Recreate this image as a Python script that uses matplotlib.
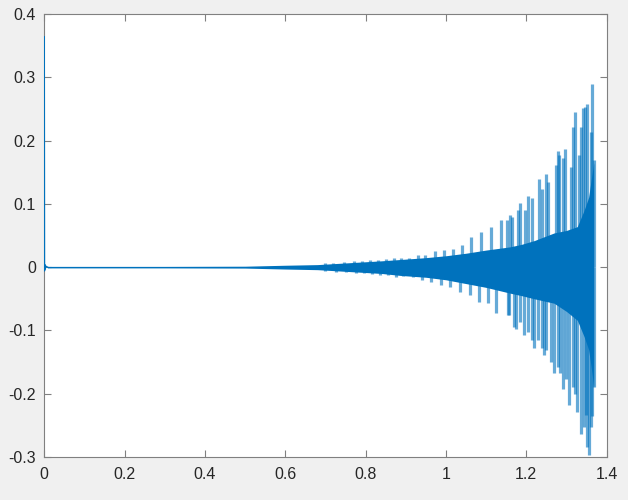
import matplotlib.pyplot as plt
import numpy as np

plt.rcParams['font.family'] = ['Liberation Sans', 'DejaVu Sans']
plt.rcParams['axes.unicode_minus'] = False

# start transient (first samples)
t_start = [0.0, 0.0, 0.0006, 0.0012, 0.002, 0.004, 0.008]
v_start = [0.0, 0.364, -0.006, 0.004, -0.003, 0.0015, 0.0]

# dense core of the signal (read envelope)
core_t = [0.008, 0.1, 0.3, 0.5, 0.6, 0.68, 0.76, 0.84, 0.885, 0.95, 1.0, 1.05,
          1.10, 1.159, 1.188, 1.22, 1.269, 1.30, 1.327, 1.344, 1.355, 1.362, 1.368]
core_hi = [0.0012, 0.0012, 0.0012, 0.0015, 0.003, 0.004, 0.007, 0.010, 0.012, 0.015,
           0.018, 0.022, 0.027, 0.032, 0.036, 0.042, 0.054, 0.058, 0.064, 0.09, 0.11,
           0.14, 0.165]
core_lo = [-0.0012, -0.0012, -0.0012, -0.0015, -0.003, -0.004, -0.007, -0.010, -0.013,
           -0.016, -0.020, -0.026, -0.032, -0.041, -0.045, -0.05, -0.057, -0.07, -0.084,
           -0.11, -0.13, -0.16, -0.19]

# upper peaks of the beating
up_t = [0.70, 0.72, 0.745, 0.77, 0.79, 0.81, 0.83, 0.85, 0.87,
        0.889, 0.908, 0.930, 0.949, 0.972, 0.995, 1.017, 1.040, 1.063, 1.088, 1.111,
        1.136, 1.153, 1.159, 1.165, 1.179, 1.185, 1.196, 1.203, 1.213, 1.231, 1.238,
        1.250, 1.254, 1.273, 1.278, 1.281, 1.292, 1.297, 1.312, 1.317, 1.322, 1.331,
        1.336, 1.342, 1.346, 1.350, 1.360, 1.364, 1.368]
up_v = [0.006, 0.006, 0.008, 0.009, 0.010, 0.011, 0.012, 0.013, 0.015,
        0.014, 0.015, 0.019, 0.019, 0.025, 0.027, 0.028, 0.035, 0.047, 0.056, 0.064,
        0.074, 0.074, 0.083, 0.079, 0.090, 0.101, 0.090, 0.113, 0.109, 0.139, 0.124,
        0.147, 0.135, 0.162, 0.183, 0.177, 0.172, 0.186, 0.158, 0.222, 0.245, 0.177,
        0.221, 0.252, 0.253, 0.257, 0.214, 0.289, 0.169]

# lower peaks of the beating
lo_t = [0.70, 0.725, 0.75, 0.775, 0.795, 0.815, 0.835, 0.855, 0.875,
        0.893, 0.918, 0.941, 0.963, 0.988, 1.011, 1.034, 1.059, 1.082, 1.104, 1.125,
        1.154, 1.156, 1.169, 1.175, 1.184, 1.194, 1.203, 1.214, 1.219, 1.229, 1.239,
        1.244, 1.250, 1.262, 1.269, 1.279, 1.285, 1.291, 1.300, 1.306, 1.316, 1.322,
        1.327, 1.337, 1.344, 1.348, 1.352, 1.356, 1.360, 1.364, 1.368]
lo_v = [-0.006, -0.007, -0.008, -0.009, -0.010, -0.011, -0.012, -0.013, -0.015,
        -0.014, -0.015, -0.021, -0.023, -0.028, -0.031, -0.039, -0.044, -0.055, -0.057,
        -0.073, -0.076, -0.076, -0.094, -0.098, -0.086, -0.107, -0.102, -0.115, -0.128,
        -0.115, -0.127, -0.139, -0.131, -0.150, -0.168, -0.158, -0.168, -0.192, -0.176,
        -0.218, -0.189, -0.200, -0.229, -0.263, -0.252, -0.234, -0.284, -0.297, -0.252,
        -0.236, -0.190]

blue = '#0072BD'

fig = plt.figure(figsize=(6.28, 5.0), dpi=100, facecolor='#f0f0f0')
ax = fig.add_axes([0.0705, 0.086, 0.8955, 0.886])
ax.set_facecolor('white')

ax.vlines(up_t, 0, up_v, color=blue, alpha=0.6, linewidth=2.3)
ax.vlines(lo_t, lo_v, 0, color=blue, alpha=0.6, linewidth=2.3)
ax.fill_between(core_t, core_lo, core_hi, color=blue, linewidth=0, zorder=3)
ax.plot(t_start, v_start, color=blue, linewidth=1.0, zorder=4)

ax.set_xlim(0, 1.4)
ax.set_ylim(-0.3, 0.4)
ax.set_xticks(np.arange(0, 1.41, 0.2))
ax.set_yticks(np.arange(-0.3, 0.41, 0.1))
ax.xaxis.set_major_formatter(plt.FuncFormatter(lambda v, p: '%g' % round(v, 2)))
ax.yaxis.set_major_formatter(plt.FuncFormatter(lambda v, p: '%g' % round(v, 2)))

for s in ax.spines.values():
    s.set_color('#808080')
    s.set_linewidth(0.8)
ax.tick_params(direction='in', length=5, width=0.8, color='#808080',
               labelcolor='#262626', labelsize=11.5, top=True, right=True)
ax.tick_params(axis='y', pad=6)
ax.tick_params(axis='x', pad=7)

fig.savefig('out.png', dpi=100, facecolor=fig.get_facecolor())
